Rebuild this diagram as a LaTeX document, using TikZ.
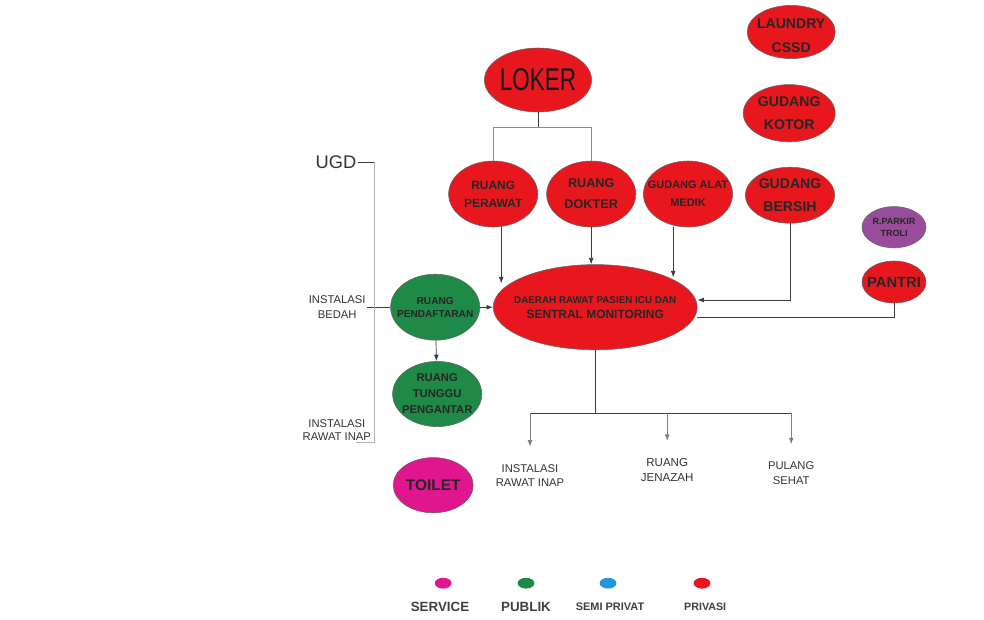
\documentclass[tikz,border=0pt]{standalone}
\usepackage{fontspec}
\setmainfont{Liberation Sans}
\usepackage{graphicx}
\usetikzlibrary{arrows.meta,shapes.geometric}
\definecolor{zonPrivasi}{HTML}{E8171E}
\definecolor{zonPublik}{HTML}{1F8A47}
\definecolor{zonService}{HTML}{E0168F}
\definecolor{zonSemi}{HTML}{2496DE}
\definecolor{zonTroli}{HTML}{9A4C9C}
\definecolor{garis}{HTML}{3C3C3C}

\begin{document}
\begin{tikzpicture}[
    rm/.style={ellipse, draw=black!60, fill=zonPrivasi, inner sep=0pt,
               minimum width=2.23cm, minimum height=1.65cm},
    tx/.style 2 args={font=\fontsize{#1}{#2}\selectfont\bfseries, text=black!85,
               align=center, inner sep=0pt},
    ket/.style 2 args={font=\fontsize{#1}{#2}\selectfont, text=black!80,
               align=center, inner sep=1pt},
    ln/.style={draw=garis, line width=0.5pt},
    arr/.style={ln, -{Latex[length=1.6mm,width=1.2mm]}},
    dot/.style={ellipse, inner sep=0pt, minimum width=0.42cm, minimum height=0.27cm}]
  \useasboundingbox (0,0) rectangle (24.6,-15.475);
  % ruang
  \node[rm, minimum width=2.68cm, minimum height=1.6cm,
        label={[tx={16}{16}, text=black!90]center:\mdseries\scalebox{1}[1.4]{LOKER}}] (loker) at (13.45,-2.0) {};
  \node[rm, minimum width=2.2cm, minimum height=1.33cm,
        label={[tx={10}{17}, yshift=-0.1cm]center:LAUNDRY\\CSSD}] (laundry) at (19.78,-0.8) {};
  \node[rm, minimum width=2.3cm, minimum height=1.43cm,
        label={[tx={10}{17}]center:GUDANG\\KOTOR}] (kotor) at (19.73,-2.83) {};
  \node[rm, label={[tx={8.5}{13}]center:RUANG\\PERAWAT}] (perawat) at (12.33,-4.85) {};
  \node[rm, label={[tx={9}{15}]center:RUANG\\DOKTER}] (dokter) at (14.78,-4.85) {};
  \node[rm, label={[tx={7.8}{13}]center:GUDANG ALAT\\MEDIK}] (alat) at (17.2,-4.85) {};
  \node[rm, minimum height=1.4cm,
        label={[tx={10}{16}]center:GUDANG\\BERSIH}] (bersih) at (19.75,-4.88) {};
  \node[rm, fill=zonTroli, minimum width=1.6cm, minimum height=1.03cm,
        label={[tx={6.4}{8.5}]center:R.PARKIR\\TROLI}] (troli) at (22.35,-5.68) {};
  \node[rm, minimum width=1.6cm, minimum height=1.05cm,
        label={[tx={10.5}{12}]center:PANTRI}] (pantri) at (22.35,-7.05) {};
  \node[rm, minimum width=5.1cm, minimum height=2.13cm,
        label={[tx={8.5}{10.7}]center:{\fontsize{7}{10.7}\selectfont DAERAH RAWAT PASIEN ICU DAN}\\SENTRAL MONITORING}]
        (daerah) at (14.88,-7.68) {};
  \node[rm, fill=zonPublik, label={[tx={7.2}{9.3}]center:RUANG\\PENDAFTARAN}] (daftar) at (10.88,-7.68) {};
  \node[rm, fill=zonPublik, minimum height=1.63cm,
        label={[tx={8}{11.4}]center:RUANG\\TUNGGU\\PENGANTAR}] (tunggu) at (10.93,-9.85) {};
  \node[rm, fill=zonService, minimum width=2.0cm, minimum height=1.38cm,
        label={[tx={11}{12}]center:TOILET}] (toilet) at (10.83,-12.13) {};
  % keterangan teks
  \node[ket={13}{13}] (ugd) at (8.4,-4.05) {UGD};
  \node[ket={8}{10.7}] (bedah) at (8.43,-7.68) {INSTALASI\\BEDAH};
  \node[ket={8}{9.5}] (inapL) at (8.42,-10.75) {INSTALASI\\RAWAT INAP};
  \node[ket={8}{10}] (inapB) at (13.25,-11.88) {INSTALASI\\RAWAT INAP};
  \node[ket={8.2}{10.5}] (jenazah) at (16.68,-11.75) {RUANG\\JENAZAH};
  \node[ket={8}{10.5}] (pulang) at (19.78,-11.83) {PULANG\\SEHAT};
  % garis
  \coordinate (lk) at (13.45,-3.18);
  \draw[ln] (loker.south) -- (lk);
  \draw[ln, draw=black!45] (perawat.north) |- (lk) -| (dokter.north);
  \draw[arr] ([xshift=0.2cm]perawat.south) -- ++(0,-1.4);
  \draw[arr] (dokter.south) -- (dokter.south |- daerah.north);
  \draw[arr] ([xshift=-0.37cm]alat.south) -- ++(0,-1.25);
  \draw[arr] (bersih.south) |- ([yshift=0.18cm]daerah.east);
  \draw[ln] (pantri.south) |- ([yshift=-0.25cm]daerah.east);
  \draw[ln] (bedah) -- (daftar);
  \draw[arr] (daftar) -- (daerah);
  \draw[arr] (daftar) -- (tunggu);
  \draw[ln] (ugd.east) -- ++(0.4,0) coordinate (u1);
  \draw[draw=black!30, line width=0.5pt] (u1) -- (u1 |- inapL.south) -- ++(-0.45,0);
  \draw[ln, line width=0.8pt] (daerah.south) -- ++(0,-1.58) coordinate (bt);
  \draw[ln, line width=0.8pt] (inapB.north |- bt) -- (pulang.north |- bt);
  \foreach \n in {inapB,jenazah,pulang}
    {\draw[arr, draw=black!50] (\n.north |- bt) -- ([yshift=0.4cm]\n.north);}
  % legenda
  \node[dot, fill=zonService] (lgS) at (11.08,-14.58) {};
  \node[dot, fill=zonPublik] (lgP) at (13.15,-14.58) {};
  \node[dot, fill=zonSemi] (lgM) at (15.2,-14.58) {};
  \node[dot, fill=zonPrivasi] (lgR) at (17.55,-14.58) {};
  \node[tx={9.5}{10}, text=black!75] at (11.0,-15.18) {SERVICE};
  \node[tx={9.5}{10}, text=black!75] at (13.15,-15.18) {PUBLIK};
  \node[tx={7.8}{10}, text=black!75] at (15.25,-15.18) {SEMI PRIVAT};
  \node[tx={7.6}{10}, text=black!75] at (17.63,-15.18) {PRIVASI};
\end{tikzpicture}
\end{document}
